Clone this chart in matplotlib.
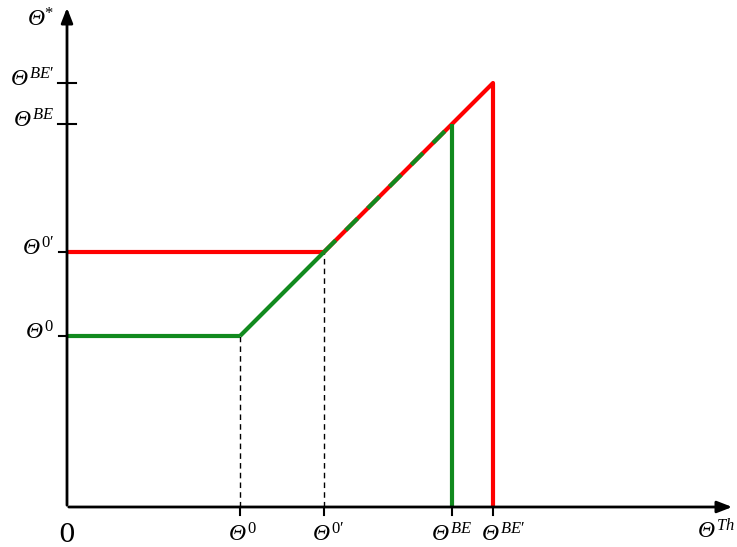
import matplotlib.pyplot as plt

plt.rcParams['mathtext.fontset'] = 'custom'
plt.rcParams['mathtext.rm'] = 'Liberation Serif'
plt.rcParams['mathtext.it'] = 'Liberation Serif:italic'

# threshold positions on the horizontal axis
theta0 = 173
theta0p = 257
thetaBE = 385
thetaBEp = 426
offset = 2  # the sloped part runs as theta* = theta_th - offset

# levels on the vertical axis
y0 = theta0 - offset
y0p = theta0p - offset
yBE = thetaBE - offset
yBEp = thetaBEp - offset

green_x = [0, theta0, thetaBE, thetaBE]
green_y = [y0, y0, yBE, 0]
red_x = [0, theta0p, thetaBEp, thetaBEp]
red_y = [y0p, y0p, yBEp, 0]

fig = plt.figure(figsize=(7.37, 5.47), dpi=100)
ax = fig.add_axes([0, 0, 1, 1])
ax.set_xlim(-67, 670)
ax.set_ylim(-40, 507)
ax.axis('off')

# red curve, then green on top; the shared slope gets a dashed green
ax.plot(red_x, red_y, color='#ff0000', lw=3, solid_capstyle='butt', zorder=3)
ax.plot(green_x[:2], green_y[:2], color='#118a1e', lw=3, solid_capstyle='butt', zorder=4)
ax.plot([theta0, theta0p], [y0, y0p], color='#118a1e', lw=3, solid_capstyle='butt', zorder=4)
ax.plot([theta0p, thetaBE], [y0p, yBE], color='#118a1e', lw=3, dashes=(4, 3.4), dash_capstyle='butt', zorder=4)
ax.plot(green_x[2:], green_y[2:], color='#118a1e', lw=3, solid_capstyle='butt', zorder=4)

# dashed guides down from the kinks
ax.plot([theta0, theta0], [0, y0], color='black', lw=1, ls=(0, (4, 3)), zorder=2)
ax.plot([theta0p, theta0p], [0, y0p], color='black', lw=1, ls=(0, (4, 3)), zorder=2)

# axes with arrow heads
ax.annotate('', xy=(668, 0), xytext=(-1, 0),
            arrowprops=dict(arrowstyle='-|>,head_length=0.9,head_width=0.35', color='black', lw=2), zorder=5)
ax.annotate('', xy=(0, 502), xytext=(0, -1),
            arrowprops=dict(arrowstyle='-|>,head_length=0.9,head_width=0.35', color='black', lw=2), zorder=5)

# tick marks
for xv in [theta0, theta0p, thetaBE, thetaBEp]:
    ax.plot([xv, xv], [0, -8], color='black', lw=1.5, zorder=5)
for yv in [y0, y0p]:
    ax.plot([-8, 0], [yv, yv], color='black', lw=1.5, zorder=5)
for yv in [yBE, yBEp]:
    ax.plot([-9, 9], [yv, yv], color='black', lw=1.5, zorder=5)

fs = 17
lab_font = dict(fontsize=fs, family='Liberation Serif', style='italic')
ax.text(0, -27, '0', fontsize=19, ha='center', va='center', family='DejaVu Serif')
labels = [r'Θ$^{\,0}$', r'Θ$^{\,0\prime}$', r'Θ$^{\,BE}$', r'Θ$^{\,BE\prime}$']
# the last label sits a little right of its tick so it clears its neighbour
nudges = [2, 4, 0, 10]
for xv, lab, dx in zip([theta0, theta0p, thetaBE, thetaBEp], labels, nudges):
    ax.text(xv + dx, -28, lab, ha='center', va='center', **lab_font)
ax.text(649, -24, r'Θ$^{\,Th}$', ha='center', va='center', **lab_font)

for yv, lab in zip([y0, y0p, yBE, yBEp], labels):
    ax.text(-13, yv + 3, lab, ha='right', va='center', **lab_font)
ax.text(-27, 487, r'Θ$^{*}$', ha='center', va='center', **lab_font)

fig.savefig('out.png', dpi=100)
